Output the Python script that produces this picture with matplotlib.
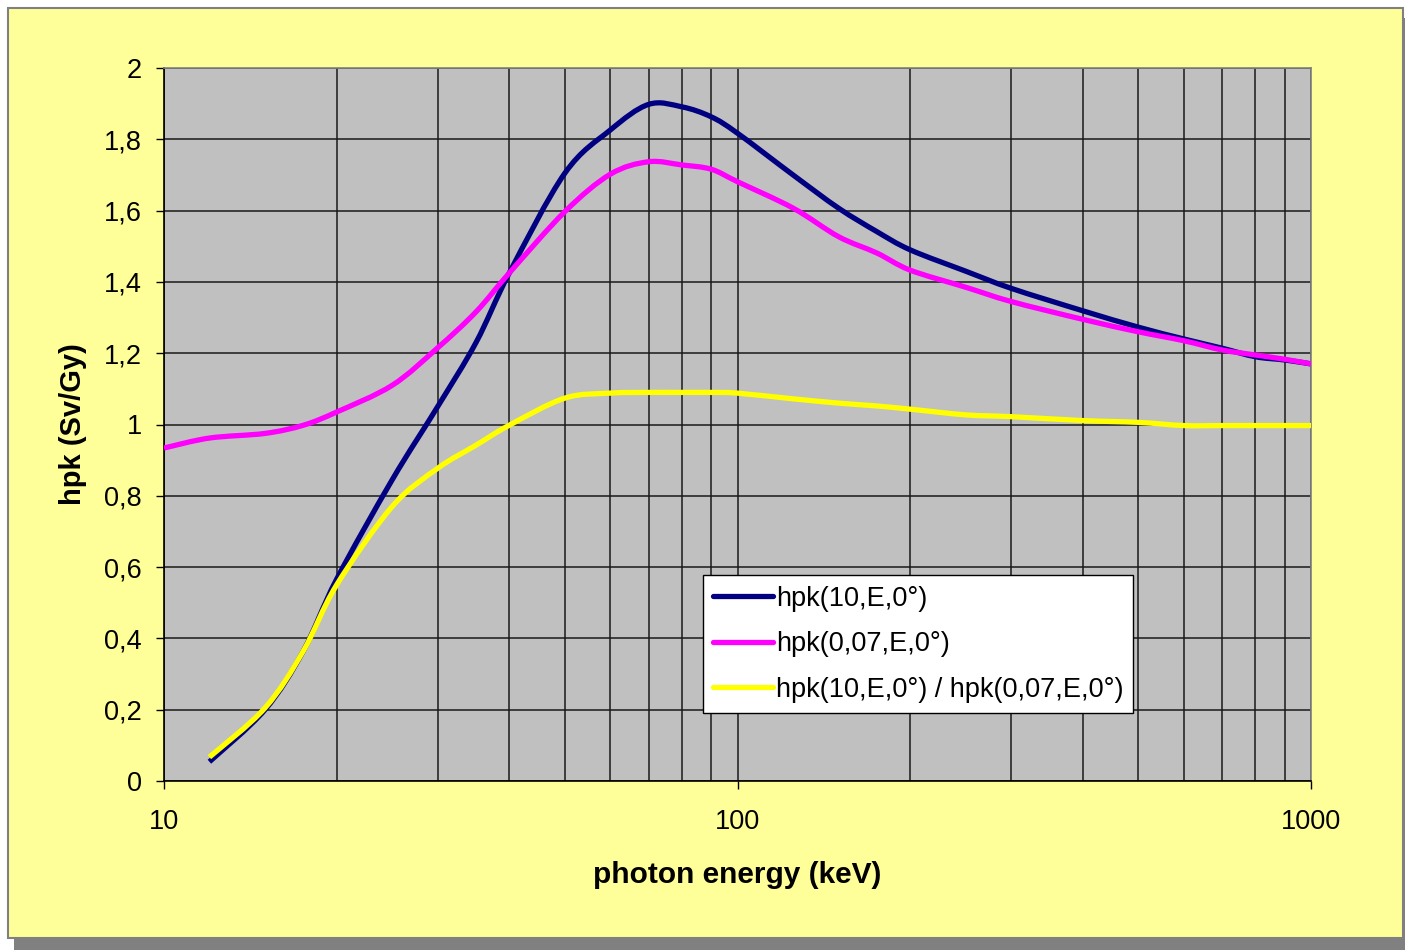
import matplotlib
matplotlib.use("Agg")
import matplotlib.pyplot as plt
import matplotlib.ticker as ticker
from matplotlib.patches import Rectangle, PathPatch
from matplotlib.path import Path
import numpy as np

plt.rcParams['font.family'] = ['Liberation Sans', 'DejaVu Sans']

# photon energies (keV)
energy_10 = [12, 15, 17.5, 20, 25, 30, 35, 40, 50, 60, 70, 80, 90, 100,
             125, 150, 175, 200, 250, 300, 400, 500, 600, 700, 800, 900, 1000]
energy_007 = [10] + energy_10

hpk_10 = [0.054, 0.20, 0.365, 0.566, 0.845, 1.05, 1.23, 1.425, 1.705, 1.826, 1.898,
          1.891, 1.863, 1.817, 1.70, 1.607, 1.541, 1.49, 1.43, 1.382, 1.319, 1.273,
          1.24, 1.214, 1.19, 1.181, 1.17]
hpk_007 = [0.934, 0.962, 0.975, 0.998, 1.035, 1.11, 1.215, 1.316, 1.425, 1.597, 1.702,
           1.737, 1.728, 1.716, 1.681, 1.607, 1.527, 1.481, 1.433, 1.385, 1.345, 1.295,
           1.26, 1.235, 1.209, 1.195, 1.183, 1.17]
ratio = [0.067, 0.205, 0.365, 0.55, 0.77, 0.877, 0.942, 0.998, 1.074, 1.088, 1.09,
         1.09, 1.09, 1.088, 1.072, 1.06, 1.052, 1.043, 1.027, 1.022, 1.011, 1.006,
         0.997, 0.997, 0.997, 0.997, 0.997]

labels = ["hpk(10,E,0°)", "hpk(0,07,E,0°)", "hpk(10,E,0°) / hpk(0,07,E,0°)"]
colors = ["#000080", "#FF00FF", "#FFFF00"]


def smooth_path(xs, ys):
    # Excel-like smoothed line: cubic Bezier segments in log-x space
    pts = np.column_stack([np.log10(xs), ys])
    verts = [pts[0]]
    codes = [Path.MOVETO]
    n = len(pts)
    for i in range(n - 1):
        p0 = pts[max(i - 1, 0)]
        p1 = pts[i]
        p2 = pts[i + 1]
        p3 = pts[min(i + 2, n - 1)]
        verts += [p1 + (p2 - p0) / 6, p2 - (p3 - p1) / 6, p2]
        codes += [Path.CURVE4] * 3
    verts = np.array(verts)
    verts[:, 0] = 10 ** verts[:, 0]
    return Path(verts, codes)


fig = plt.figure(figsize=(14.05, 9.5), dpi=100)
fig.patch.set_facecolor("white")

# chart area shadow and background (Excel style)
fig.patches.append(Rectangle((14 / 1405, 0), 1391 / 1405, 1 - 18 / 950,
                             transform=fig.transFigure, facecolor="#808080",
                             edgecolor="none", zorder=-3))
fig.patches.append(Rectangle((8 / 1405, 12 / 950), 1395 / 1405, 930 / 950,
                             transform=fig.transFigure, facecolor="#FFFF99",
                             edgecolor="#808080", linewidth=1.5, zorder=-2))

ax = fig.add_axes([164 / 1405, 1 - 781 / 950, 1147 / 1405, 713 / 950])
ax.set_facecolor("#C0C0C0")

series = [(energy_10, hpk_10), (energy_007, hpk_007), (energy_10, ratio)]
for i, (xs, ys) in enumerate(series):
    ax.add_patch(PathPatch(smooth_path(xs, ys), fill=False, edgecolor=colors[i],
                           lw=3.8, capstyle="butt", joinstyle="round", zorder=2 + i))
    # legend proxy
    ax.plot([], [], color=colors[i], lw=3.8, solid_capstyle="round", label=labels[i])

ax.set_xscale("log")
ax.set_xlim(10, 1000)
ax.set_ylim(0, 2)
ax.set_yticks(np.arange(0, 2.01, 0.2))
ax.yaxis.set_major_formatter(ticker.FuncFormatter(
    lambda v, p: ("%g" % round(v, 1)).replace(".", ",")))
ax.xaxis.set_major_locator(ticker.FixedLocator([10, 100, 1000]))
ax.xaxis.set_major_formatter(ticker.FuncFormatter(lambda v, p: "%d" % v))
ax.xaxis.set_minor_locator(ticker.LogLocator(base=10, subs=np.arange(2, 10)))
ax.xaxis.set_minor_formatter(ticker.NullFormatter())

ax.grid(True, which="both", axis="x", color="#1a1a1a", lw=1.1)
ax.grid(True, which="major", axis="y", color="#1a1a1a", lw=1.1)
ax.set_axisbelow(True)

ax.tick_params(axis="y", direction="out", length=6, width=1, pad=10, labelsize=19.5)
ax.tick_params(axis="x", which="major", direction="out", length=6, width=1,
               pad=14, labelsize=19.5)
ax.tick_params(axis="x", which="minor", length=0)

for s in ["left", "bottom"]:
    ax.spines[s].set_color("black")
    ax.spines[s].set_linewidth(1.2)
for s in ["top", "right"]:
    ax.spines[s].set_color("#808080")
    ax.spines[s].set_linewidth(1.2)

ax.set_xlabel("photon energy (keV)", fontsize=21.5, fontweight="bold", labelpad=19)
ax.set_ylabel("hpk (Sv/Gy)", fontsize=21, fontweight="bold", labelpad=12)

leg = ax.legend(loc="lower left", bbox_to_anchor=(0.47, 0.0954), fontsize=19.5,
                handlelength=2.2, handletextpad=0.1, labelspacing=0.72,
                borderpad=0.38, borderaxespad=0, fancybox=False, framealpha=1,
                edgecolor="black")
leg.get_frame().set_linewidth(1.0)

fig.savefig("out.png", dpi=100, facecolor=fig.get_facecolor())
